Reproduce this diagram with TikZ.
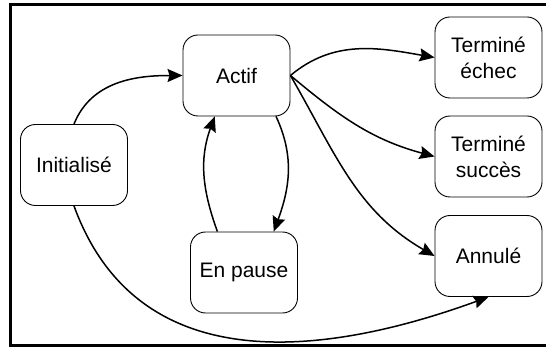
\documentclass[tikz,border=0pt]{standalone}
\usepackage{fontspec}
\setmainfont{Liberation Sans}
\usetikzlibrary{arrows.meta}
\tikzset{
	etat/.style={draw, line width=0.9pt, rounded corners=15pt, minimum width=107pt, minimum height=81pt, inner sep=0pt, align=center, font=\fontsize{21}{26}\selectfont},
	fleche/.style={line width=1.5pt, -{Stealth[length=15pt,width=13pt,inset=2pt]}}
}
\begin{document}
\begin{tikzpicture}[x=1pt,y=1pt]
	\useasboundingbox (0,0) rectangle (546,348);
	\draw [line width=3pt] (10,3) rectangle (550,343);%Rahmen

	\node[etat] (init) at (74,183) {Initialisé};
	\node[etat] (actif) at (236.5,272.5) {Actif};
	\node[etat] (pause) at (244,75.5) {En pause};
	\node[etat] (echec) at (488.5,290.5) {Terminé\\échec};
	\node[etat] (succes) at (488.5,191.5) {Terminé\\succès};
	\node[etat] (annule) at (488.5,92) {Annulé};

	\draw [fleche] (init.north) to[out=68,in=180] (actif.west);
	\draw [fleche] (actif.-46) to[out=-65,in=70] (pause.54);%vers pause
	\draw [fleche] (pause.123) to[out=110,in=-110] (actif.242);%retour
	\draw [fleche] (actif.east) to[out=40,in=170] (echec.west);
	\draw [fleche] (actif.east) to[out=-40,in=165] (succes.west);
	\draw [fleche] (actif.east) to[out=-60,in=150] (annule.west);
	\draw [fleche] (init.south) to[out=-70,in=200,looseness=1.1] (annule.south);

\end{tikzpicture}
\end{document}
